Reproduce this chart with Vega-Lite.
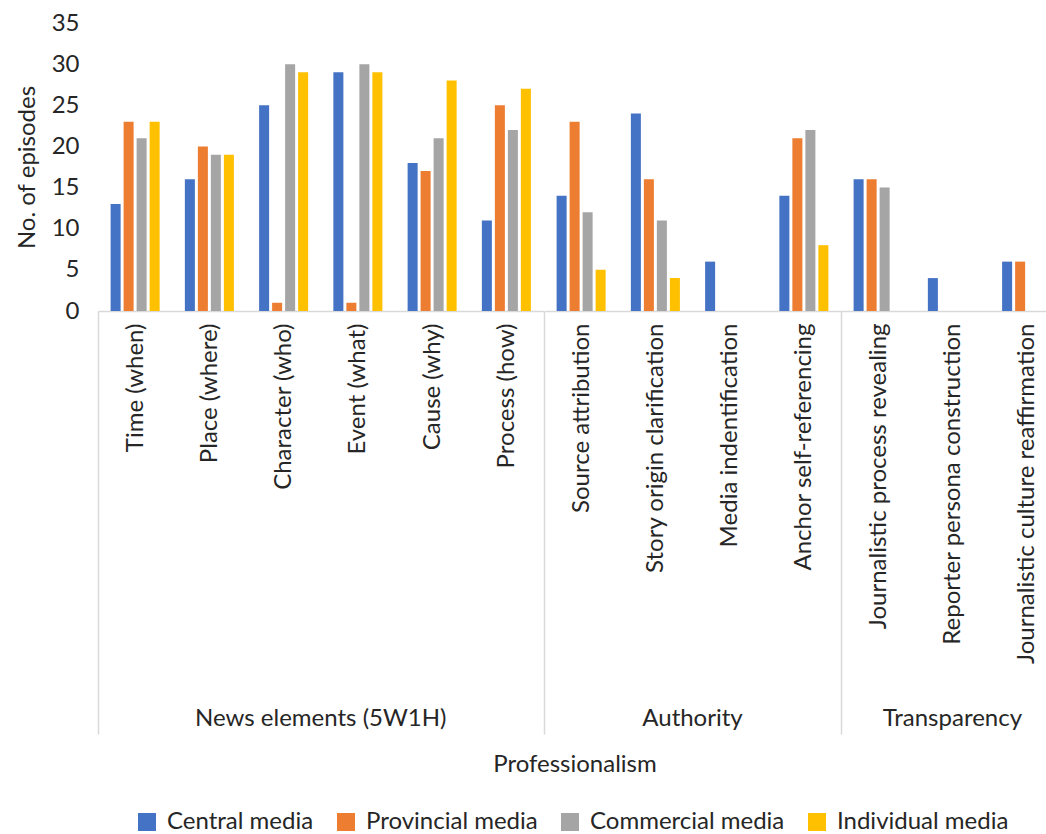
{
  "$schema": "https://vega.github.io/schema/vega-lite/v6.json",
  "padding": {"left": 15, "top": 11, "right": 0, "bottom": 0},
  "data": {"values": [
    {"group": "News elements (5W1H)", "element": "Time (when)", "media": "Central media", "count": 13},
    {"group": "News elements (5W1H)", "element": "Time (when)", "media": "Provincial media", "count": 23},
    {"group": "News elements (5W1H)", "element": "Time (when)", "media": "Commercial media", "count": 21},
    {"group": "News elements (5W1H)", "element": "Time (when)", "media": "Individual media", "count": 23},
    {"group": "News elements (5W1H)", "element": "Place (where)", "media": "Central media", "count": 16},
    {"group": "News elements (5W1H)", "element": "Place (where)", "media": "Provincial media", "count": 20},
    {"group": "News elements (5W1H)", "element": "Place (where)", "media": "Commercial media", "count": 19},
    {"group": "News elements (5W1H)", "element": "Place (where)", "media": "Individual media", "count": 19},
    {"group": "News elements (5W1H)", "element": "Character (who)", "media": "Central media", "count": 25},
    {"group": "News elements (5W1H)", "element": "Character (who)", "media": "Provincial media", "count": 1},
    {"group": "News elements (5W1H)", "element": "Character (who)", "media": "Commercial media", "count": 30},
    {"group": "News elements (5W1H)", "element": "Character (who)", "media": "Individual media", "count": 29},
    {"group": "News elements (5W1H)", "element": "Event (what)", "media": "Central media", "count": 29},
    {"group": "News elements (5W1H)", "element": "Event (what)", "media": "Provincial media", "count": 1},
    {"group": "News elements (5W1H)", "element": "Event (what)", "media": "Commercial media", "count": 30},
    {"group": "News elements (5W1H)", "element": "Event (what)", "media": "Individual media", "count": 29},
    {"group": "News elements (5W1H)", "element": "Cause (why)", "media": "Central media", "count": 18},
    {"group": "News elements (5W1H)", "element": "Cause (why)", "media": "Provincial media", "count": 17},
    {"group": "News elements (5W1H)", "element": "Cause (why)", "media": "Commercial media", "count": 21},
    {"group": "News elements (5W1H)", "element": "Cause (why)", "media": "Individual media", "count": 28},
    {"group": "News elements (5W1H)", "element": "Process (how)", "media": "Central media", "count": 11},
    {"group": "News elements (5W1H)", "element": "Process (how)", "media": "Provincial media", "count": 25},
    {"group": "News elements (5W1H)", "element": "Process (how)", "media": "Commercial media", "count": 22},
    {"group": "News elements (5W1H)", "element": "Process (how)", "media": "Individual media", "count": 27},
    {"group": "Authority", "element": "Source attribution", "media": "Central media", "count": 14},
    {"group": "Authority", "element": "Source attribution", "media": "Provincial media", "count": 23},
    {"group": "Authority", "element": "Source attribution", "media": "Commercial media", "count": 12},
    {"group": "Authority", "element": "Source attribution", "media": "Individual media", "count": 5},
    {"group": "Authority", "element": "Story origin clarification", "media": "Central media", "count": 24},
    {"group": "Authority", "element": "Story origin clarification", "media": "Provincial media", "count": 16},
    {"group": "Authority", "element": "Story origin clarification", "media": "Commercial media", "count": 11},
    {"group": "Authority", "element": "Story origin clarification", "media": "Individual media", "count": 4},
    {"group": "Authority", "element": "Media indentification", "media": "Central media", "count": 6},
    {"group": "Authority", "element": "Media indentification", "media": "Provincial media", "count": 0},
    {"group": "Authority", "element": "Media indentification", "media": "Commercial media", "count": 0},
    {"group": "Authority", "element": "Media indentification", "media": "Individual media", "count": 0},
    {"group": "Authority", "element": "Anchor self-referencing", "media": "Central media", "count": 14},
    {"group": "Authority", "element": "Anchor self-referencing", "media": "Provincial media", "count": 21},
    {"group": "Authority", "element": "Anchor self-referencing", "media": "Commercial media", "count": 22},
    {"group": "Authority", "element": "Anchor self-referencing", "media": "Individual media", "count": 8},
    {"group": "Transparency", "element": "Journalistic process revealing", "media": "Central media", "count": 16},
    {"group": "Transparency", "element": "Journalistic process revealing", "media": "Provincial media", "count": 16},
    {"group": "Transparency", "element": "Journalistic process revealing", "media": "Commercial media", "count": 15},
    {"group": "Transparency", "element": "Journalistic process revealing", "media": "Individual media", "count": 0},
    {"group": "Transparency", "element": "Reporter persona construction", "media": "Central media", "count": 4},
    {"group": "Transparency", "element": "Reporter persona construction", "media": "Provincial media", "count": 0},
    {"group": "Transparency", "element": "Reporter persona construction", "media": "Commercial media", "count": 0},
    {"group": "Transparency", "element": "Reporter persona construction", "media": "Individual media", "count": 0},
    {"group": "Transparency", "element": "Journalistic culture reaffirmation", "media": "Central media", "count": 6},
    {"group": "Transparency", "element": "Journalistic culture reaffirmation", "media": "Provincial media", "count": 6},
    {"group": "Transparency", "element": "Journalistic culture reaffirmation", "media": "Commercial media", "count": 0},
    {"group": "Transparency", "element": "Journalistic culture reaffirmation", "media": "Individual media", "count": 0}
  ]},
  "facet": {
    "column": {
      "field": "group",
      "type": "nominal",
      "sort": ["News elements (5W1H)", "Authority", "Transparency"],
      "header": {
        "title": "Professionalism",
        "titleOrient": "bottom",
        "labelOrient": "bottom",
        "labelFont": "Lato",
        "titleFont": "Lato",
        "labelFontSize": 24,
        "titleFontSize": 24,
        "labelColor": "#262626",
        "titleColor": "#262626",
        "titleFontWeight": "normal",
        "labelPadding": 396,
        "titlePadding": 12
      }
    }
  },
  "spacing": 0,
  "align": "each",
  "bounds": "flush",
  "resolve": {"scale": {"x": "independent", "xOffset": "independent"}},
  "spec": {
    "width": {"step": 74.25, "for": "position"},
    "height": 288,
    "mark": {"type": "bar"},
    "encoding": {
      "x": {
        "field": "element",
        "type": "nominal",
        "sort": null,
        "scale": {"paddingInner": 0, "paddingOuter": 0},
        "axis": {
          "title": null,
          "labelAngle": -90,
          "labelFontSize": 24,
          "labelColor": "#262626",
          "labelFont": "Lato",
          "labelLimit": 500,
          "domainColor": "#d9d9d9",
          "domainWidth": 1.5,
          "tickBand": "extent",
          "tickSize": 423,
          "tickColor": "#d9d9d9",
          "tickWidth": 1.5,
          "tickOpacity": {"condition": {"test": "datum.extra", "value": 1}, "value": 0},
          "labelPadding": -411
        }
      },
      "xOffset": {
        "field": "media",
        "type": "nominal",
        "sort": ["Central media", "Provincial media", "Commercial media", "Individual media"],
        "scale": {"paddingInner": 0.23, "paddingOuter": 0.97}
      },
      "y": {
        "field": "count",
        "type": "quantitative",
        "scale": {"domain": [0, 35]},
        "axis": {
          "title": "No. of episodes",
          "values": [0, 5, 10, 15, 20, 25, 30, 35],
          "domain": false,
          "ticks": false,
          "grid": false,
          "labelFontSize": 24,
          "labelFont": "Lato",
          "labelColor": "#262626",
          "labelPadding": 19,
          "titleFont": "Lato",
          "titleFontSize": 24,
          "titleFontWeight": "normal",
          "titleColor": "#262626",
          "titlePadding": 12
        }
      },
      "color": {
        "field": "media",
        "type": "nominal",
        "sort": ["Central media", "Provincial media", "Commercial media", "Individual media"],
        "scale": {
          "domain": ["Central media", "Provincial media", "Commercial media", "Individual media"],
          "range": ["#4472C4", "#ED7D31", "#A5A5A5", "#FFC000"]
        },
        "legend": {
          "title": null,
          "orient": "none",
          "legendX": 37,
          "legendY": 787,
          "direction": "horizontal",
          "symbolType": "square",
          "symbolSize": 324,
          "symbolStrokeWidth": 0,
          "labelFont": "Lato",
          "labelFontSize": 24,
          "labelColor": "#262626",
          "labelOffset": 8,
          "labelLimit": 400,
          "columnPadding": 20
        }
      }
    }
  },
  "config": {
    "view": {"stroke": null},
    "font": "Lato"
  }
}
